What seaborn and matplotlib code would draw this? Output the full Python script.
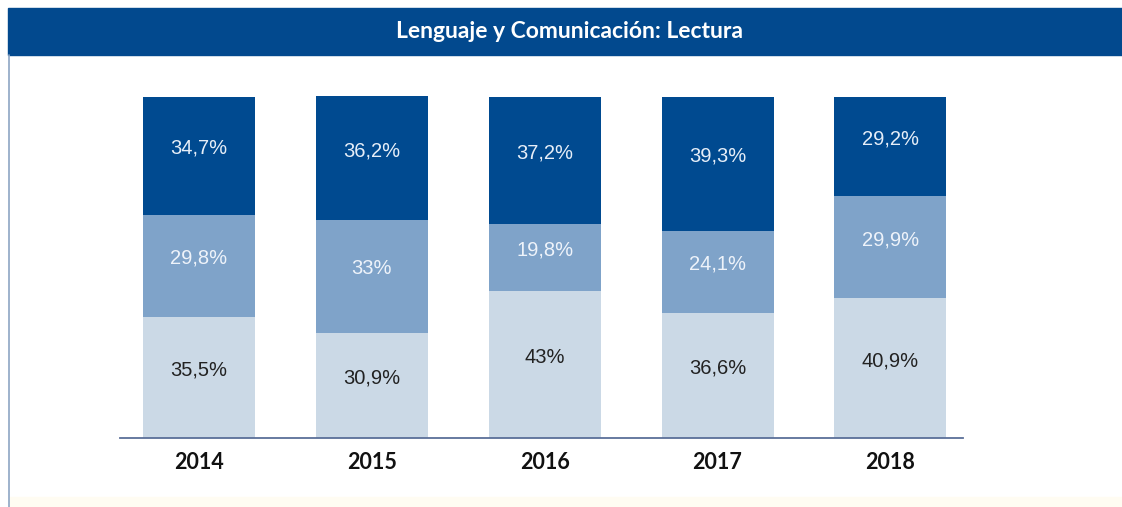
import matplotlib
matplotlib.use("Agg")
import matplotlib.pyplot as plt
import seaborn as sns
import numpy as np
import pandas as pd
from matplotlib.patches import Rectangle
from matplotlib.lines import Line2D

years = ["2014", "2015", "2016", "2017", "2018"]
bottom_vals = [35.5, 30.9, 43.0, 36.6, 40.9]
middle_vals = [29.8, 33.0, 19.8, 24.1, 29.9]
top_vals = [34.7, 36.2, 37.2, 39.3, 29.2]
bottom_labels = ["35,5%", "30,9%", "43%", "36,6%", "40,9%"]
middle_labels = ["29,8%", "33%", "19,8%", "24,1%", "29,9%"]
top_labels = ["34,7%", "36,2%", "37,2%", "39,3%", "29,2%"]
title = "Lenguaje y Comunicación: Lectura"

c_dark = "#004a90"
c_mid = "#7fa3c9"
c_light = "#cbd9e6"

sns.set_style("white")
fig = plt.figure(figsize=(11.22, 5.07), dpi=100)
fig.patch.set_facecolor("white")

W, H = 1122, 507
ax = fig.add_axes([120 / W, (H - 438) / H, (963 - 120) / W, (438 - 96) / H])

df = pd.DataFrame({"year": years, "b": bottom_vals, "m": middle_vals, "t": top_vals})
df["bm"] = df["b"] + df["m"]

sns.barplot(data=df, x="year", y="b", color=c_light, width=0.648, ax=ax,
            saturation=1, linewidth=0)
sns.barplot(data=df, x="year", y="m", bottom=df["b"].values, color=c_mid, width=0.648,
            ax=ax, saturation=1, linewidth=0)
sns.barplot(data=df, x="year", y="t", bottom=df["bm"].values, color=c_dark, width=0.648,
            ax=ax, saturation=1, linewidth=0)

ax.set_xlim(-0.457, 4.42)
ax.set_ylim(0, 100.2)
for s in ["top", "right", "left"]:
    ax.spines[s].set_visible(False)
ax.spines["bottom"].set_color("#5b6f99")
ax.spines["bottom"].set_linewidth(1.3)
ax.set_yticks([])
ax.set_xlabel("")
ax.set_ylabel("")
ax.tick_params(axis="x", length=0, pad=10)
for lab in ax.get_xticklabels():
    lab.set_fontfamily("Lato")
    lab.set_fontweight("bold")
    lab.set_fontsize(15.5)
    lab.set_color("#111111")

font = "Liberation Sans"
fs = 14.5
off = 2.2
for i in range(len(years)):
    b, m, t = bottom_vals[i], middle_vals[i], top_vals[i]
    ax.text(i, b / 2 + off, bottom_labels[i], ha="center", va="center",
            fontsize=fs, color="#222222", family=font)
    ax.text(i, b + m / 2 + off, middle_labels[i], ha="center", va="center",
            fontsize=fs, color="#eef3fa", family=font)
    ax.text(i, b + m + t / 2 + off, top_labels[i], ha="center", va="center",
            fontsize=fs, color="#e6eef8", family=font)

# title bar
fig.patches.append(Rectangle((8 / W, (H - 55) / H), 1 - 8 / W, 47 / H,
                             transform=fig.transFigure, color="#02498e", zorder=0))
fig.text(570 / W, (H - 32) / H, title, ha="center", va="center", color="white",
         fontsize=16.5, fontweight="bold", family="Lato")
# faint bottom strip
fig.patches.append(Rectangle((9 / W, 0), 1 - 9 / W, 10 / H,
                             transform=fig.transFigure, color="#fffcf2", zorder=0))
# left border line
fig.lines.append(Line2D([8.5 / W, 8.5 / W], [0, (H - 55) / H], transform=fig.transFigure,
                        color="#8ea6c4", linewidth=1.2))

fig.savefig("out.png", dpi=100)
